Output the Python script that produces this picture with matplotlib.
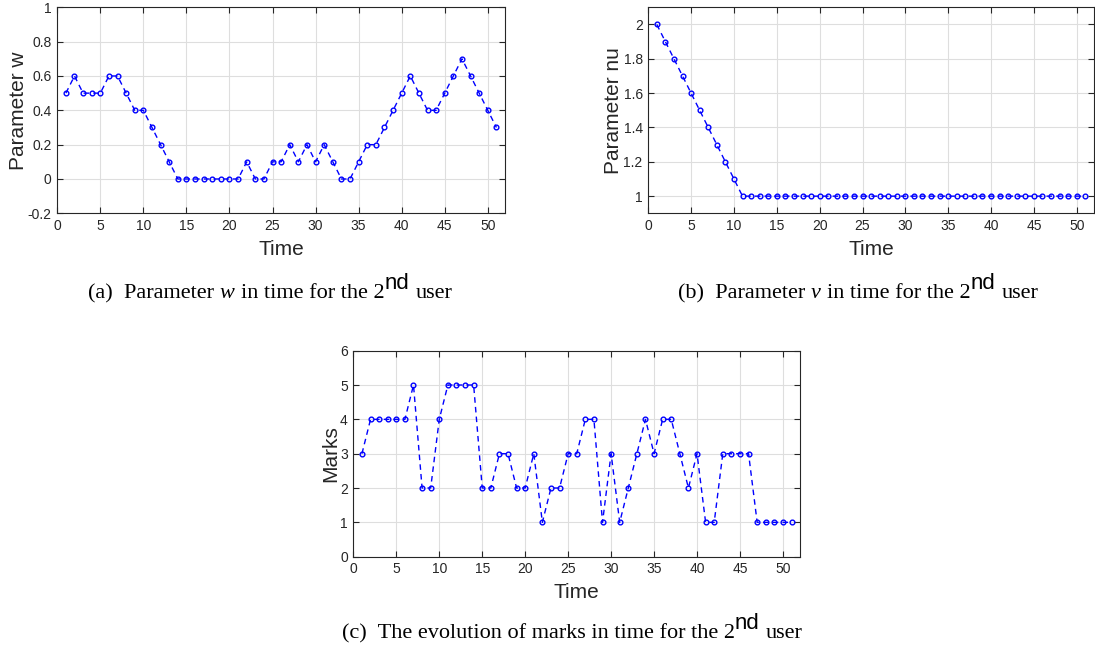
import numpy as np
import matplotlib
matplotlib.use('Agg')
import matplotlib.pyplot as plt
from matplotlib.transforms import IdentityTransform

# data
t = np.arange(1, 52)
w = [0.5, 0.6, 0.5, 0.5, 0.5, 0.6, 0.6, 0.5, 0.4, 0.4,
     0.3, 0.2, 0.1, 0, 0, 0, 0, 0, 0, 0,
     0, 0.1, 0, 0, 0.1, 0.1, 0.2, 0.1, 0.2, 0.1,
     0.2, 0.1, 0, 0, 0.1, 0.2, 0.2, 0.3, 0.4, 0.5,
     0.6, 0.5, 0.4, 0.4, 0.5, 0.6, 0.7, 0.6, 0.5, 0.4,
     0.3]
nu = [2.0, 1.9, 1.8, 1.7, 1.6, 1.5, 1.4, 1.3, 1.2, 1.1] + [1.0] * 41
marks = [3, 4, 4, 4, 4, 4, 5, 2, 2, 4,
         5, 5, 5, 5, 2, 2, 3, 3, 2, 2,
         3, 1, 2, 2, 3, 3, 4, 4, 1, 3,
         1, 2, 3, 4, 3, 4, 4, 3, 2, 3,
         1, 1, 3, 3, 3, 3, 1, 1, 1, 1,
         1]

plt.rcParams['font.family'] = 'Liberation Sans'
tc = '#262626'

fig = plt.figure(figsize=(10.95, 6.47), dpi=100)


def panel(rect, y, ylim, yticks, ylabel, yfmt):
    ax = fig.add_axes(rect)
    ax.plot(t, y, '--o', color='#0000ff', lw=1.0, ms=3.4, mfc='none', mew=1.0,
            dashes=(4, 3))
    ax.set_xlim(0, 52)
    ax.set_ylim(*ylim)
    ax.set_xticks(np.arange(0, 51, 5))
    ax.set_yticks(yticks)
    ax.set_yticklabels([yfmt(v) for v in yticks])
    ax.grid(True, color='#dedede', lw=0.8)
    ax.set_axisbelow(True)
    ax.tick_params(direction='in', length=4, width=0.8, colors=tc,
                   labelsize=10, top=True, right=True, pad=4)
    for s in ax.spines.values():
        s.set_color(tc)
        s.set_linewidth(0.8)
    ax.set_xlabel('Time', fontsize=15, color=tc, labelpad=5)
    ax.set_ylabel(ylabel, fontsize=15, color=tc, labelpad=0)
    return ax


def fmt(v):
    s = ('%.1f' % v).rstrip('0').rstrip('.')
    return s if s != '-0' else '0'


panel([0.0523, 0.6703, 0.4089, 0.3184], w, (-0.2, 1.0),
      np.round(np.arange(-0.2, 1.01, 0.2), 1), 'Parameter w', fmt)
panel([0.5920, 0.6703, 0.4070, 0.3184], nu, (0.9, 2.1),
      np.round(np.arange(1.0, 2.01, 0.2), 1), 'Parameter nu', fmt)
panel([0.3227, 0.1396, 0.4080, 0.3184], marks, (0, 6),
      np.arange(0, 7), 'Marks', lambda v: str(int(v)))

# captions built piece by piece (pixel coords, origin bottom-left)
H = 647
cap = 16
sp = 6
renderer = fig.canvas.get_renderer()


def caption(cx, ybase, pieces):
    base = H - ybase
    objs = []
    for s, fam, style, dy, gap in pieces:
        tt = fig.text(0, base + dy, s, transform=IdentityTransform(),
                      fontsize=cap, family=fam, style=style, color='black',
                      va='baseline', ha='left')
        objs.append((tt, gap))
    widths = [o.get_window_extent(renderer).width for o, g in objs]
    total = sum(widths) + sum(g for o, g in objs)
    x = cx - total / 2
    for (o, g), wd in zip(objs, widths):
        o.set_x(x)
        x += wd + g


serif = 'Liberation Serif'
sans = 'Liberation Sans'
caption(270, 298, [('(a)  Parameter', serif, 'normal', 0, sp),
                   ('w', serif, 'italic', 0, sp),
                   ('in time for the 2', serif, 'normal', 0, 0),
                   ('nd', sans, 'normal', 9, sp),
                   ('user', serif, 'normal', 0, 0)])
caption(858, 298, [('(b)  Parameter', serif, 'normal', 0, sp),
                   ('\u03bd', serif, 'italic', 0, sp),
                   ('in time for the 2', serif, 'normal', 0, 0),
                   ('nd', sans, 'normal', 9, sp),
                   ('user', serif, 'normal', 0, 0)])
caption(572, 638, [('(c)  The evolution of marks in time for the 2', serif, 'normal', 0, 0),
                   ('nd', sans, 'normal', 9, sp),
                   ('user', serif, 'normal', 0, 0)])

fig.savefig('out.png', dpi=100)
